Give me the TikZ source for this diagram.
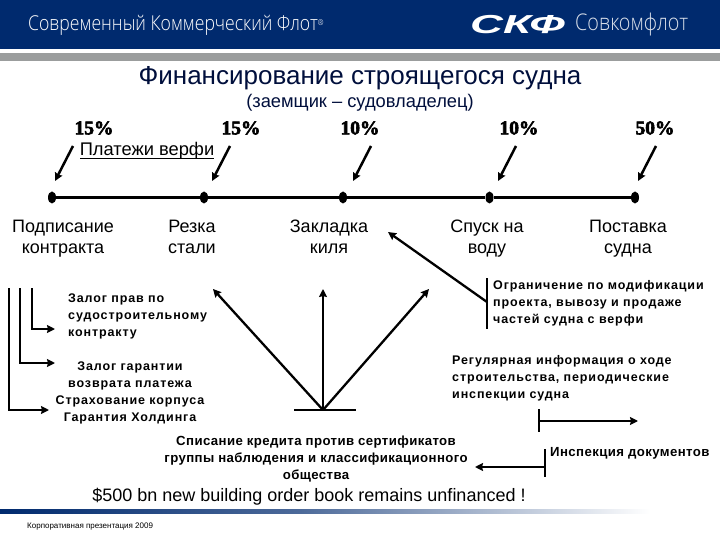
\documentclass[tikz,border=0pt]{standalone}
\usepackage{fontspec}
\setmainfont{Liberation Sans}
\newfontfamily\serifblack{Liberation Serif}[FakeBold=3]
\newfontfamily\hdrfont{Open Sans Light}[FakeStretch=0.86]
\newfontfamily\spacedbold{Liberation Sans}[BoldFont={Liberation Sans Bold},LetterSpace=7]
\newfontfamily\lightspaced{Liberation Sans}[BoldFont={Liberation Sans Bold},LetterSpace=3]
\usetikzlibrary{shapes.geometric,arrows.meta}
\definecolor{navy}{HTML}{002A6E}
\definecolor{band}{HTML}{9B9D9D}
\definecolor{titlecol}{HTML}{000F3C}
\tikzset{
 x=1pt,y=-1pt,
 dotmark/.style={shape=ellipse,fill=black,minimum width=8pt,minimum height=12pt,inner sep=0pt},
 timeline/.style={line width=2.2pt},
 tip/.style={-{Stealth[length=8pt,width=8pt,inset=1pt]}},
 payarrow/.style={tip,line width=2.5pt},
 fan/.style={tip,line width=2.3pt},
 barline/.style={line width=2pt},
 pct/.style={font=\serifblack\fontsize{19.5}{19.5}\selectfont\bfseries,inner sep=0pt},
 stage/.style={font=\fontsize{18}{21}\selectfont,align=center,inner sep=0pt,anchor=north},
 smallb/.style={font=\spacedbold\fontsize{12.5}{17}\selectfont\bfseries,inner sep=0pt},
 plainb/.style={font=\lightspaced\fontsize{13.2}{17}\selectfont\bfseries,inner sep=0pt},
 note/.style={smallb,align=left,anchor=north west},
 notec/.style={smallb,align=center,anchor=north},
}
\begin{document}
\begin{tikzpicture}
\useasboundingbox (0,0) rectangle (720,540);
\fill[white] (0,0) rectangle (720,540);
\fill[navy] (0,0) rectangle (720,49);
\fill[band] (0,53) rectangle (720,61);
\node[anchor=west,text=white,inner sep=0pt,font=\hdrfont\fontsize{20.5}{20.5}\selectfont] (hdr) at (28,25) {Современный Коммерческий Флот\raisebox{5pt}{\fontsize{8}{8}\selectfont®}};
\node[anchor=west,text=white,inner sep=0pt,font=\fontsize{26}{26}\selectfont\bfseries\itshape] (logo) at (470,25) {\scalebox{1.75}[1]{СКФ}};
\node[anchor=west,text=white!85!navy,inner sep=0pt,font=\hdrfont\fontsize{23}{23}\selectfont] (sovk) at (575,25) {Совкомфлот};
\node[font=\fontsize{26}{26}\selectfont,text=titlecol,inner sep=0pt] (title) at (360,78) {Финансирование строящегося судна};
\node[font=\fontsize{18.3}{18.3}\selectfont,text=titlecol,inner sep=0pt] (sub) at (360,103) {(заемщик – судовладелец)};
\node[pct] (p1) at (94,128) {15\%};
\node[pct] (p2) at (241,128) {15\%};
\node[pct] (p3) at (360,128) {10\%};
\node[pct] (p4) at (519,128) {10\%};
\node[pct] (p5) at (655,128) {50\%};
\node[font=\fontsize{18.3}{18.3}\selectfont,inner sep=0pt] (pay) at (147,151) {Платежи верфи};
\draw[line width=0.9pt] (80,158.5) -- (214,158.5);
\node[dotmark] (d1) at (52,197.5) {};
\node[dotmark] (d2) at (204,197.5) {};
\node[dotmark] (d3) at (343,197.5) {};
\node[dotmark] (d4) at (489.5,197.5) {};
\node[dotmark] (d5) at (635,197.5) {};
\draw[timeline] (d1) -- (d2) -- (d3) -- (d4) -- (d5);
\coordinate (a1) at (73,146); \coordinate (b1) at (55,181);
\coordinate (a2) at (230,146); \coordinate (b2) at (212,181);
\coordinate (a3) at (371,146); \coordinate (b3) at (353,181);
\coordinate (a4) at (516,146); \coordinate (b4) at (498,181);
\coordinate (a5) at (656,146); \coordinate (b5) at (638,181);
\foreach \i in {1,...,5} \draw[payarrow] (a\i) -- (b\i);
\node[stage] (s1) at (63,220) {Подписание\\контракта};
\node[stage] (s2) at (192,220) {Резка\\стали};
\node[stage] (s3) at (329,220) {Закладка\\киля};
\node[stage] (s4) at (487,220) {Спуск на\\воду};
\node[stage] (s5) at (628,220) {Поставка\\судна};
% left brackets
\coordinate (l1) at (9,288); \coordinate (l1b) at (9,410); \coordinate (l1e) at (49,410);
\coordinate (l2) at (20,288); \coordinate (l2b) at (20,363); \coordinate (l2e) at (55,363);
\coordinate (l3) at (32,288); \coordinate (l3b) at (32,329); \coordinate (l3e) at (55,329);
\draw[tip,line width=2pt] (l1) -- (l1b) -- (l1e);
\draw[tip,line width=2pt] (l2) -- (l2b) -- (l2e);
\draw[tip,line width=2pt] (l3) -- (l3b) -- (l3e);
\node[note] (n1) at (68,294) {Залог прав по\\судостроительному\\контракту};
\node[notec] (n2) at (130,362) {Залог гарантии\\возврата платежа\\Страхование корпуса\\Гарантия Холдинга};
% fan
\coordinate (fanL) at (294,410); \coordinate (fanR) at (356,410); \coordinate (apex) at (323,410);
\coordinate (ft1) at (213,289); \coordinate (ft2) at (323,289); \coordinate (ft3) at (429,289);
\draw[barline] (fanL) -- (fanR);
\draw[fan] (apex) -- (ft1);
\draw[fan] (apex) -- (ft2);
\draw[fan] (apex) -- (ft3);
% restriction
\coordinate (r1) at (487,278); \coordinate (r2) at (487,329); \coordinate (rm) at (487,302); \coordinate (rt) at (388,232);
\draw[barline] (r1) -- (r2);
\draw[fan] (rm) -- (rt);
\node[note] (n3) at (493,280) {Ограничение по модификации\\проекта, вывозу и продаже\\частей судна с верфи};
\node[note] (n4) at (452,355) {Регулярная информация о ходе\\строительства, периодические\\инспекции судна};
% inspection arrow
\coordinate (i1) at (539,409); \coordinate (i2) at (539,432); \coordinate (im) at (539,421); \coordinate (it) at (638,421);
\draw[barline] (i1) -- (i2);
\draw[fan] (im) -- (it);
\coordinate (j1) at (545,449); \coordinate (j2) at (545,477); \coordinate (jm) at (545,467); \coordinate (jt) at (475,467);
\draw[line width=1.4pt] (j1) -- (j2);
\draw[fan] (jm) -- (jt);
\node[plainb,anchor=west] (n5) at (550,453) {Инспекция документов};
\node[plainb,align=center,anchor=north] (n6) at (316,436) {Списание кредита против сертификатов\\группы наблюдения и классификационного\\общества};
\node[font=\fontsize{18}{18}\selectfont,inner sep=0pt] (n7) at (309,497) {\$500 bn new building order book remains unfinanced !};
\shade[left color=navy,right color=navy!70,shading angle=90,draw=none] (0,509.5) rectangle (300,513.5);
\shade[left color=navy!70,right color=white] (300,509.5) rectangle (650,513.5);
\node[anchor=west,font=\fontsize{8}{8}\selectfont,inner sep=0pt] (n8) at (27,527) {Корпоративная презентация 2009};
\end{tikzpicture}
\end{document}
